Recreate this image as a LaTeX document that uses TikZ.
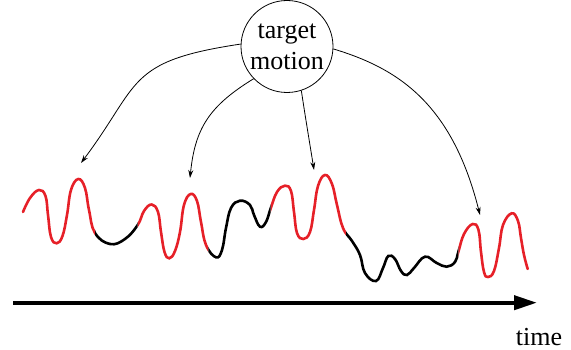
\documentclass[tikz,border=0pt]{standalone}
\usepackage{fontspec}
\setmainfont{Liberation Serif}
\usetikzlibrary{arrows.meta}
\definecolor{wavered}{RGB}{230,32,40}
\newcommand\mywave[1]{\draw[#1] plot[smooth,tension=0.7] coordinates {
(23,212) (30,198) (39,190) (45.5,196) (48,215) (51,237) (56.7,243.3) (62.5,236) (67,215) (71,190) (78.3,179) (85,188) (89,210) (95,233) (110,244) (125,239) (137.7,225) (144,211) (151.7,204.5) (158,212) (161,232) (164.5,252) (169.3,258.3) (175,251) (180,232) (184,205) (190.7,194) (197,201) (201,222) (206,245) (216,257.3) (222,250) (226,228) (231,208) (240,200.7) (250,205) (254,215) (260,226.7) (266,222) (270.7,208.3) (277,192) (285,185.7) (291,191) (294,212) (297,233) (303.3,239) (310,232) (314,210) (318,186) (325,175) (332,184) (337,205) (343,228) (352,241) (360,255) (365,273) (376,281) (383,268) (388.3,256) (395,259) (401,271) (407,275) (414,268) (425,256.7) (436.7,263) (446.7,266.7) (455,262) (458.3,252) (464,234) (472.7,224) (478.5,230) (481,252) (484,272) (488,277) (494,271) (499,248) (503,225) (511.7,213.3) (518,221) (521,238) (524,255) (527.7,269)};}
\begin{document}
\begin{tikzpicture}[x=1pt,y=-1pt,
  wavestyle/.style={line width=2.6pt,line cap=round},
  linkarrow/.style={line width=0.8pt,-{Stealth[length=8pt,width=5pt]}},
  timearrow/.style={line width=4pt,-{Triangle[length=23pt,width=14pt]}},
  txt/.style={font=\fontsize{26}{31}\selectfont}]
\useasboundingbox (0,0) rectangle (571,350);
\node[circle,draw,line width=0.8pt,minimum size=92pt,inner sep=0pt,align=center,txt] (tm) at (287,46.5) {target\\motion};
\coordinate (t1) at (81,163);
\coordinate (t2) at (190,178);
\coordinate (t3) at (314,170);
\coordinate (t4) at (480,215);
\draw[linkarrow] (tm.177) .. controls (125.5,61.2) and (140.9,83.2) .. (t1);
\draw[linkarrow] (tm.224.6) .. controls (209.4,105.9) and (195,128.1) .. (t2);
\draw[linkarrow] (tm.288) .. controls (305,115) and (310,145) .. (t3);
\draw[linkarrow] (tm.357) .. controls (397.2,68.2) and (451.8,102.5) .. (t4);
\begin{scope}
\clip (0,150) rectangle (95,300) (137.7,150) rectangle (208.3,300) (270.7,150) rectangle (346,300) (458.3,150) rectangle (571,300);
\mywave{wavestyle,wavered}
\end{scope}
\begin{scope}
\clip (95,150) rectangle (137.7,300) (208.3,150) rectangle (270.7,300) (346,150) rectangle (458.3,300);
\mywave{wavestyle,black}
\end{scope}
\coordinate (a0) at (13,302.7);
\coordinate (a1) at (537,302.7);
\draw[timearrow] (a0) -- (a1);
\node[txt,anchor=base,inner sep=0pt] (time) at (539,345) {time};
\end{tikzpicture}
\end{document}
